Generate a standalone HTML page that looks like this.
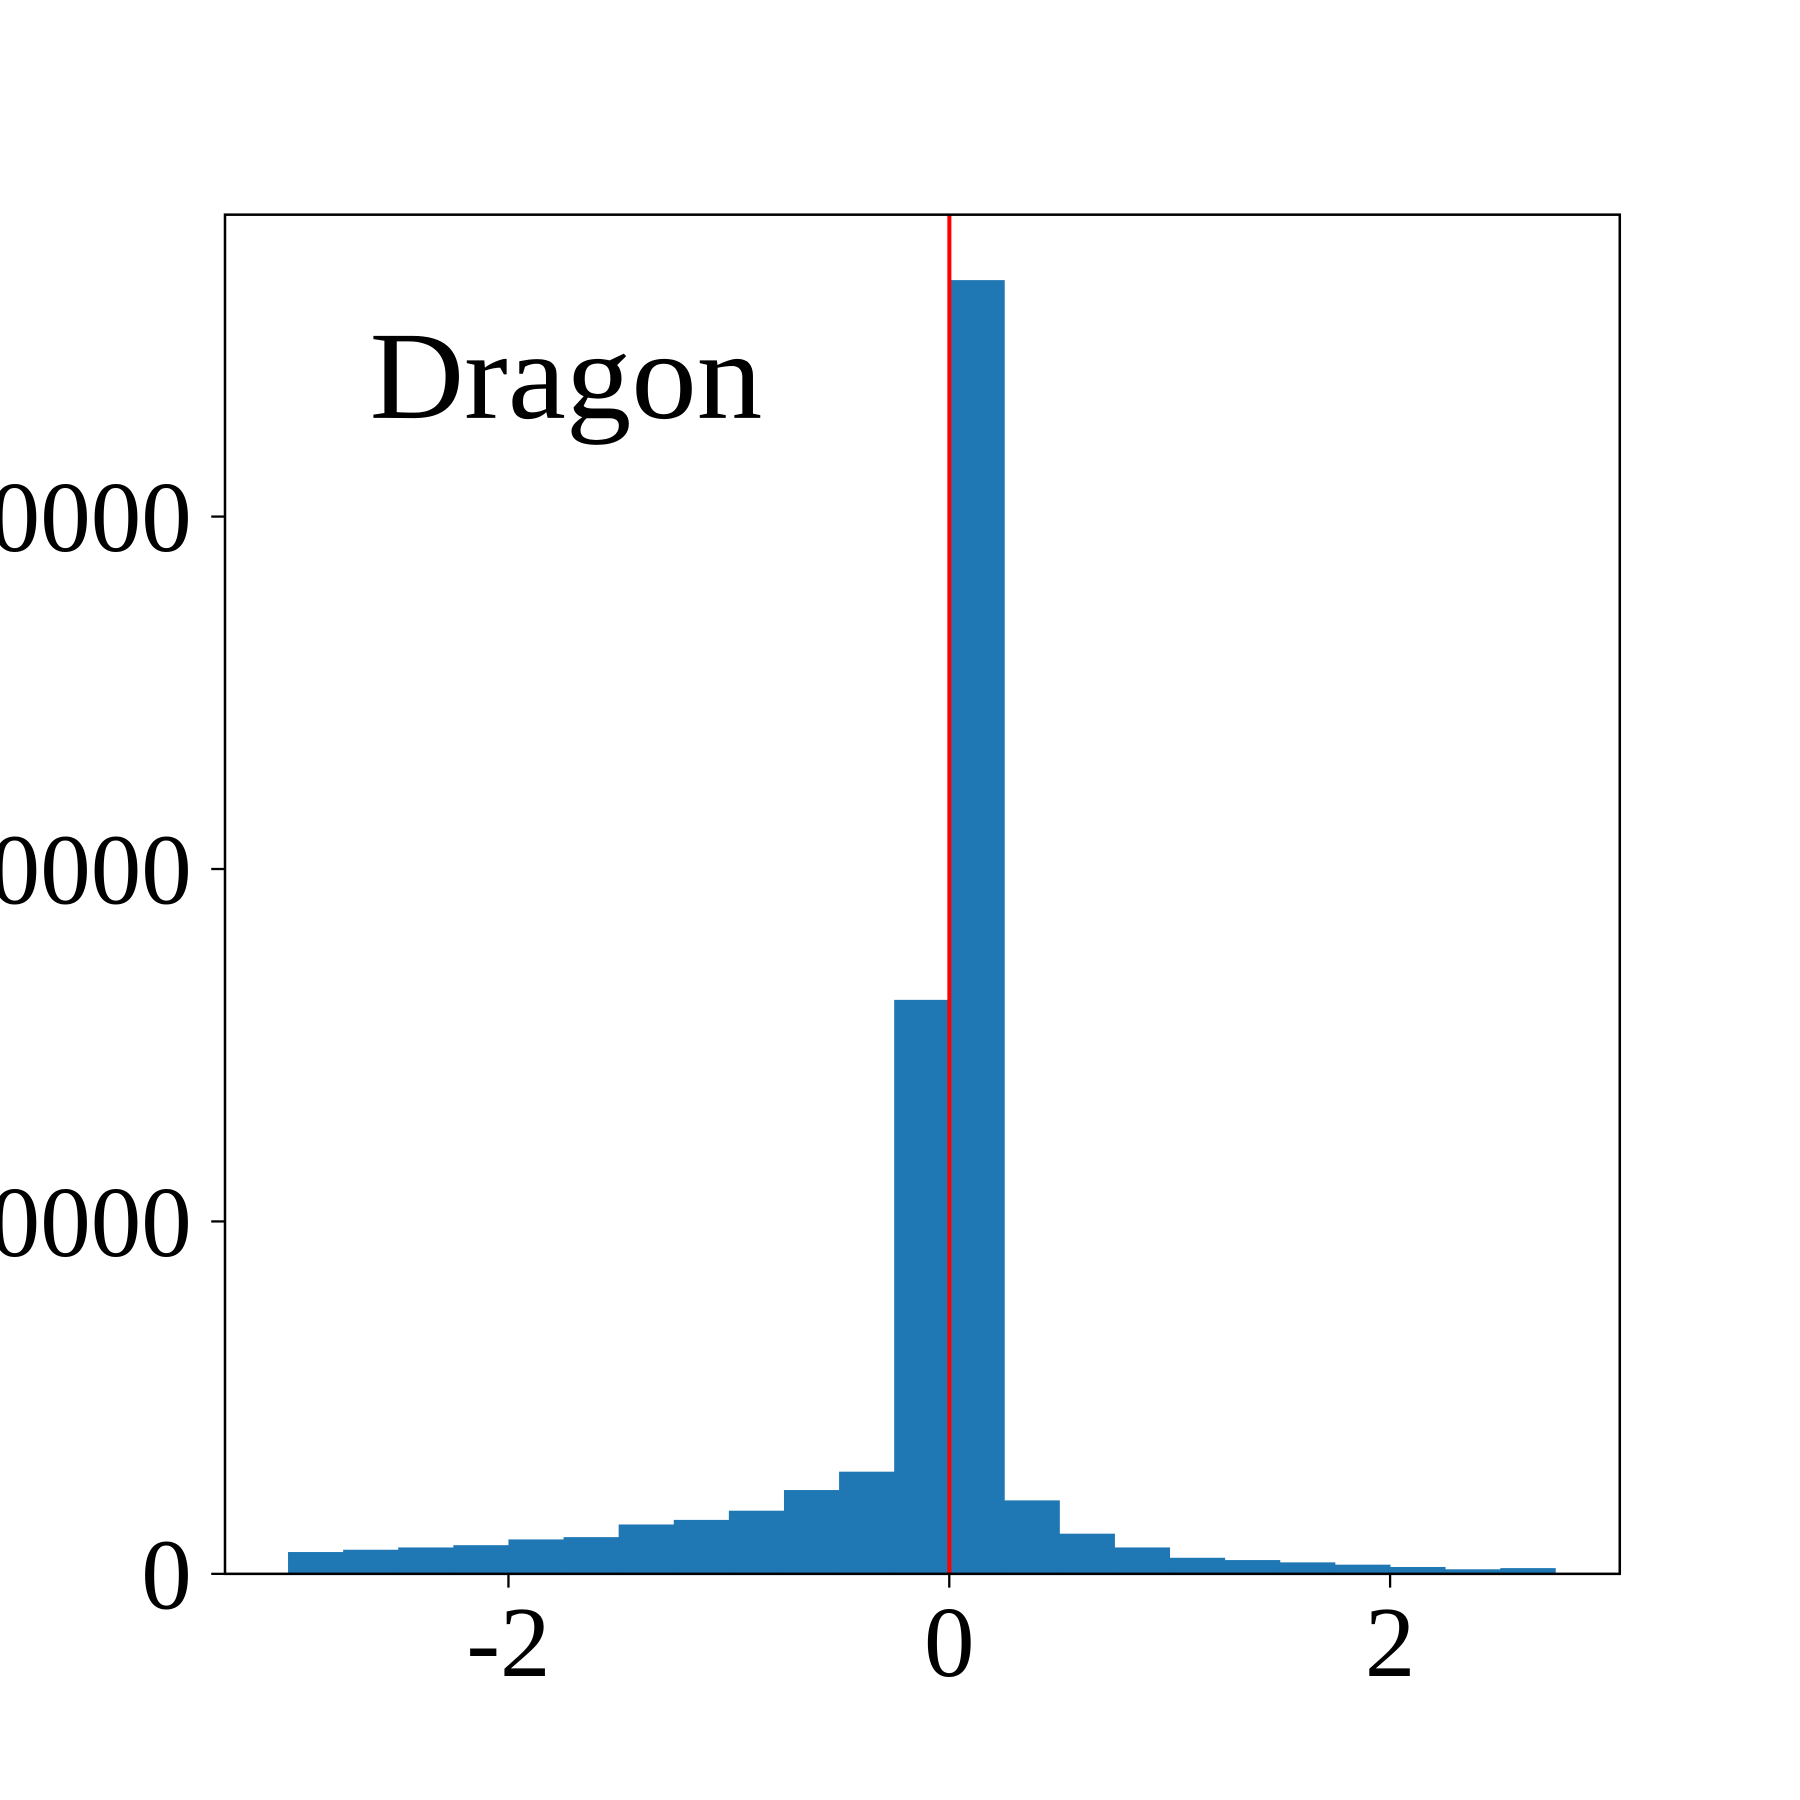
<!DOCTYPE html>
<html><head><meta charset="utf-8"><style>html,body{margin:0;padding:0;background:#fff;}svg{display:block;}</style></head>
<body>
<svg id="chart" width="1800" height="1800" viewBox="0 0 1568 1568" xmlns="http://www.w3.org/2000/svg" font-family="'Liberation Serif', serif">
<rect width="1568" height="1568" fill="#fff"/>
<g id="bars"></g>
<line x1="827" x2="827" y1="187" y2="1371" stroke="#ff0000" stroke-width="3.5"/>
<rect x="196" y="187" width="1215" height="1184" fill="none" stroke="#000" stroke-width="2.2"/>
<g id="xticks"></g>
<g id="yticks"></g>
<text x="322" y="364" font-size="109" textLength="342" lengthAdjust="spacingAndGlyphs">Dragon</text>
</svg>
<script>
const binStarts = [-3,-2.75,-2.5,-2.25,-2,-1.75,-1.5,-1.25,-1,-0.75,-0.5,-0.25,0,0.25,0.5,0.75,1,1.25,1.5,1.75,2,2.25,2.5];
const binWidth = 0.25;
const counts = [619,684,749,814,977,1042,1401,1531,1792,2378,2899,16287,36710,2085,1140,749,456,391,326,261,195,130,163];
const xTicks = [-2,0,2];
const xTickLabels = ["-2","0","2"];
const yTicks = [0,10000,20000,30000];
const yTickLabels = ["0","10000","20000","30000"];

const NS="http://www.w3.org/2000/svg";
const L=196,R=1411,T=187,B=1371;
const xMin=-3.286,xMax=3.042,yMin=0,yMax=38567;
const xs=v=>L+(v-xMin)/(xMax-xMin)*(R-L);
const ys=v=>B-(v-yMin)/(yMax-yMin)*(B-T);
const bars=document.getElementById('bars');
counts.forEach((c,i)=>{
  const r=document.createElementNS(NS,'rect');
  const x0=xs(binStarts[i]),x1=xs(binStarts[i]+binWidth);
  r.setAttribute('x',x0);r.setAttribute('width',x1-x0+0.3);
  r.setAttribute('y',ys(c));r.setAttribute('height',ys(0)-ys(c));
  r.setAttribute('fill','#1f77b4');
  
  
  bars.appendChild(r);
});
const xg=document.getElementById('xticks');
xTicks.forEach((v,i)=>{
  const l=document.createElementNS(NS,'line');
  l.setAttribute('x1',xs(v));l.setAttribute('x2',xs(v));l.setAttribute('y1',B);l.setAttribute('y2',B+12);
  l.setAttribute('stroke','#000');l.setAttribute('stroke-width','2');
  
  
  xg.appendChild(l);
  const t=document.createElementNS(NS,'text');
  t.setAttribute('x',xs(v));t.setAttribute('y',1460);t.setAttribute('font-size','88');t.setAttribute('text-anchor','middle');
  t.textContent=xTickLabels[i];
  
  
  xg.appendChild(t);
});
const yg=document.getElementById('yticks');
yTicks.forEach((v,i)=>{
  const l=document.createElementNS(NS,'line');
  l.setAttribute('x1',L-12);l.setAttribute('x2',L);l.setAttribute('y1',ys(v));l.setAttribute('y2',ys(v));
  l.setAttribute('stroke','#000');l.setAttribute('stroke-width','2');
  
  
  yg.appendChild(l);
  const t=document.createElementNS(NS,'text');
  t.setAttribute('x',167);t.setAttribute('y',ys(v)+30);t.setAttribute('font-size','88');t.setAttribute('text-anchor','end');
  t.textContent=yTickLabels[i];
  
  
  yg.appendChild(t);
});
</script>
</body></html>
